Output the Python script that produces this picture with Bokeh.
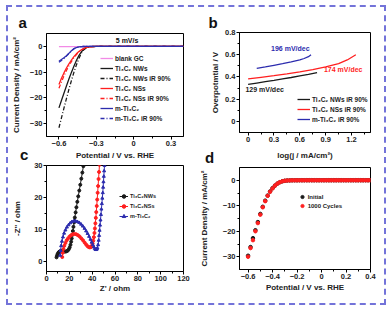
from bokeh.plotting import figure
from bokeh.models import Range1d, FixedTicker, Legend, LegendItem, Label, Div
from bokeh.layouts import row, column
from bokeh.embed import file_html
from bokeh.resources import INLINE

FONT = "Liberation Sans"
BLACK = "#1a1a1a"
RED = "#ff1f1f"
BLUE = "#2c2cae"
PINK = "#f28ae6"
DASH = "4 2 1 2"

# ---------------- panel a : polarisation curves ----------------
a_E = [-0.60, -0.58, -0.56, -0.54, -0.52, -0.50, -0.48, -0.46, -0.44, -0.42,
       -0.40, -0.38, -0.36, -0.34, -0.30, -0.20, 0.00, 0.20, 0.40]
a_blank = [-0.10, -0.10, -0.09, -0.09, -0.08, -0.08, -0.07, -0.07, -0.06, -0.06,
           -0.05, -0.05, -0.04, -0.04, -0.03, -0.02, -0.01, 0.00, 0.00]
a_nw = [-23.9, -21.0, -18.2, -15.4, -12.7, -10.1, -7.7, -5.5, -3.6, -2.1,
        -1.1, -0.5, -0.2, -0.08, -0.03, -0.01, 0.0, 0.0, 0.0]
a_nw_ir = [-31.6, -27.8, -24.0, -20.3, -16.7, -13.3, -10.1, -7.2, -4.7, -2.7,
           -1.3, -0.55, -0.2, -0.08, -0.03, -0.01, 0.0, 0.0, 0.0]
a_ns = [-14.8, -12.4, -10.3, -8.4, -6.8, -5.3, -4.0, -2.9, -2.0, -1.3,
        -0.8, -0.4, -0.2, -0.08, -0.03, -0.01, 0.0, 0.0, 0.0]
a_ns_ir = [-16.3, -13.8, -11.5, -9.4, -7.5, -5.9, -4.4, -3.2, -2.2, -1.4,
           -0.85, -0.45, -0.2, -0.08, -0.03, -0.01, 0.0, 0.0, 0.0]
a_m = [-5.8, -5.1, -4.4, -3.6, -2.7, -1.7, -0.9, -0.45, -0.22, -0.1,
       -0.05, -0.03, -0.02, -0.01, 0.0, 0.0, 0.0, 0.0, 0.0]
a_m_ir = [-6.2, -5.5, -4.7, -3.8, -2.8, -1.8, -0.95, -0.47, -0.23, -0.1,
          -0.05, -0.03, -0.02, -0.01, 0.0, 0.0, 0.0, 0.0, 0.0]
a_names = ["blank GC", "Ti\u2083C\u2082 NWs", "Ti\u2083C\u2082 NWs iR 90%",
           "Ti\u2083C\u2082 NSs", "Ti\u2083C\u2082 NSs iR 90%",
           "m-Ti\u2083C\u2082", "m-Ti\u2083C\u2082 iR 90%"]
a_xticks = [-0.6, -0.3, 0.0, 0.3]
a_xminor = [-0.45, -0.15, 0.15]
a_yticks = [0, -10, -20, -30]
a_yminor = [-5, -15, -25]

# ---------------- panel b : Tafel plots ----------------
b_x_nw = [0.0, 0.1, 0.2, 0.3, 0.4, 0.5, 0.6, 0.7, 0.8]
b_y_nw = [0.333, 0.345, 0.357, 0.369, 0.382, 0.395, 0.409, 0.423, 0.439]
b_x_ns = [0.0, 0.15, 0.3, 0.45, 0.6, 0.75, 0.9, 1.05, 1.15, 1.25]
b_y_ns = [0.382, 0.397, 0.412, 0.428, 0.446, 0.466, 0.490, 0.520, 0.553, 0.600]
b_x_m = [0.10, 0.2, 0.3, 0.4, 0.5, 0.6, 0.65, 0.70, 0.73]
b_y_m = [0.478, 0.491, 0.505, 0.519, 0.535, 0.553, 0.566, 0.582, 0.600]
b_names = ["Ti\u2083C\u2082 NWs iR 90%", "Ti\u2083C\u2082 NSs iR 90%", "m-Ti\u2083C\u2082 iR 90%"]
b_slopes = ["129 mV/dec", "174 mV/dec", "196 mV/dec"]
b_xticks = [0.0, 0.3, 0.6, 0.9, 1.2]
b_xminor = [0.15, 0.45, 0.75, 1.05, 1.35]
b_yticks = [0.0, 0.2, 0.4, 0.6, 0.8]
b_yminor = [0.1, 0.3, 0.5, 0.7]

# ---------------- panel c : Nyquist plots ----------------
c_x_nw = [8.8, 9.2, 9.7, 10.3, 11.0, 11.8, 12.7, 13.6, 14.6, 15.6, 16.6, 17.6, 18.6,
          19.5, 20.3, 21.0, 21.6, 22.1, 22.6, 23.1, 23.6, 24.2, 24.8, 25.5, 26.2,
          27.0, 27.8, 28.7, 29.6, 30.5, 31.4, 32.3]
c_y_nw = [1.4, 1.9, 2.4, 2.8, 3.1, 3.3, 3.4, 3.4, 3.3, 3.2, 3.2, 3.3, 3.5,
          3.9, 4.5, 5.3, 6.3, 7.3, 8.4, 9.6, 10.9, 12.3, 13.8, 15.4, 17.0,
          18.7, 20.4, 22.2, 24.0, 25.9, 27.8, 29.8]
c_x_ns = [13.8, 14.2, 14.8, 15.6, 16.6, 17.7, 18.9, 20.2, 21.6, 23.0, 24.5, 26.0,
          27.5, 29.0, 30.5, 32.0, 33.4, 34.7, 35.9, 37.0, 38.0, 38.9, 39.7, 40.4,
          41.0, 41.5, 42.0, 42.4, 42.8, 43.2, 43.6, 44.0, 44.4, 44.8, 45.2, 45.6,
          46.0, 46.4]
c_y_ns = [1.5, 2.8, 4.0, 5.0, 5.9, 6.7, 7.3, 7.9, 8.3, 8.6, 8.7, 8.6,
          8.3, 7.9, 7.3, 6.7, 6.0, 5.4, 4.9, 4.6, 4.5, 4.6, 5.0, 5.7,
          6.6, 7.7, 9.0, 10.4, 12.0, 13.7, 15.5, 17.4, 19.4, 21.5, 23.6, 25.8,
          28.0, 30.2]
c_x_m = [12.0, 12.3, 12.8, 13.5, 14.4, 15.4, 16.6, 17.9, 19.3, 20.8, 22.3, 23.9,
         25.5, 27.1, 28.7, 30.3, 31.8, 33.3, 34.7, 36.0, 37.3, 38.5, 39.6, 40.6,
         41.5, 42.3, 43.0, 43.6, 44.1, 44.6, 45.2, 45.7, 46.1, 46.5, 46.9, 47.3,
         47.7, 48.1, 48.5, 48.9, 49.3, 49.6, 49.9, 50.2, 50.5, 50.8]
c_y_m = [2.0, 3.5, 5.0, 6.4, 7.7, 8.9, 9.9, 10.8, 11.5, 12.1, 12.5, 12.7,
         12.7, 12.5, 12.2, 11.7, 11.1, 10.4, 9.6, 8.8, 7.9, 7.0, 6.1, 5.3,
         4.6, 4.1, 3.8, 3.8, 4.0, 4.3, 5.3, 6.7, 8.2, 9.8, 11.4, 13.0,
         14.7, 16.4, 18.1, 19.8, 21.5, 23.2, 24.9, 26.6, 28.3, 30.0]
c_names = ["Ti\u2083C\u2082NWs", "Ti\u2083C\u2082NSs", "m-Ti\u2083C\u2082"]
c_xticks = [0, 20, 40, 60, 80, 100, 120]
c_xminor = [10, 30, 50, 70, 90, 110]
c_yticks = [0, 10, 20, 30]
c_yminor = [5, 15, 25]

# ---------------- panel d : stability ----------------
d_E = [-0.60, -0.58, -0.56, -0.54, -0.52, -0.50, -0.48, -0.46, -0.44, -0.42,
       -0.40, -0.38, -0.36, -0.34, -0.32, -0.30, -0.28, -0.26, -0.24, -0.22,
       -0.20, -0.18, -0.16, -0.14, -0.12, -0.10, -0.08, -0.06, -0.04, -0.02,
       0.00, 0.02, 0.04, 0.06, 0.08, 0.10, 0.12, 0.14, 0.16, 0.18,
       0.20, 0.22, 0.24, 0.26, 0.28, 0.30, 0.32, 0.34, 0.36, 0.38, 0.40]
d_initial = [-29.6, -26.2, -22.7, -19.6, -16.4, -13.2, -10.4, -8.0, -6.0, -4.4,
             -3.1, -2.1, -1.3, -0.75, -0.4, -0.2, -0.1, -0.05, -0.03, -0.02,
             -0.02, -0.01, -0.01, -0.01, 0.0, 0.0, 0.0, 0.0, 0.0, 0.0,
             0.0, 0.0, 0.0, 0.0, 0.0, 0.0, 0.0, 0.0, 0.0, 0.0,
             0.0, 0.0, 0.0, 0.0, 0.0, 0.0, 0.0, 0.0, 0.0, 0.0, 0.0]
d_cycles = [-30.0, -26.6, -23.5, -20.0, -16.8, -13.5, -10.6, -8.2, -6.1, -4.5,
            -3.2, -2.1, -1.3, -0.75, -0.4, -0.2, -0.1, -0.05, -0.03, -0.02,
            -0.02, -0.01, -0.01, -0.01, 0.0, 0.0, 0.0, 0.0, 0.0, 0.0,
            0.0, 0.0, 0.0, 0.0, 0.0, 0.0, 0.0, 0.0, 0.0, 0.0,
            0.0, 0.0, 0.0, 0.0, 0.0, 0.0, 0.0, 0.0, 0.0, 0.0, 0.0]
d_names = ["Initial", "1000 Cycles"]
d_xticks = [-0.6, -0.4, -0.2, 0.0, 0.2, 0.4]
d_xminor = [-0.5, -0.3, -0.1, 0.1, 0.3]
d_yticks = [0, -10, -20, -30]
d_yminor = [-5, -15, -25]

panel_letters = ["a", "b", "c", "d"]


def make_fig(w, h, xr, yr, left, right, top, bottom):
    p = figure(width=w, height=h, x_range=Range1d(*xr), y_range=Range1d(*yr),
               output_backend="svg", toolbar_location=None,
               min_border_left=left, min_border_right=right,
               min_border_top=top, min_border_bottom=bottom)
    p.xgrid.grid_line_color = None
    p.ygrid.grid_line_color = None
    p.outline_line_color = "black"
    p.outline_line_alpha = 1.0
    p.outline_line_width = 1
    p.background_fill_color = "white"
    p.border_fill_color = "white"
    return p


def style_axes(p, xt, xm, yt, ym, xlabel, ylabel, xstand, ystand):
    p.xaxis.ticker = FixedTicker(ticks=xt, minor_ticks=xm)
    p.yaxis.ticker = FixedTicker(ticks=yt, minor_ticks=ym)
    p.xaxis.axis_label = xlabel
    p.yaxis.axis_label = ylabel
    for ax in (p.xaxis[0], p.yaxis[0]):
        ax.axis_line_color = "black"
        ax.major_tick_in = 0
        ax.major_tick_out = 3
        ax.minor_tick_in = 0
        ax.minor_tick_out = 2
        ax.major_tick_line_color = "black"
        ax.minor_tick_line_color = "black"
        ax.major_label_standoff = 1
        ax.major_label_text_font = FONT
        ax.major_label_text_font_size = "7.5px"
        ax.major_label_text_font_style = "bold"
        ax.major_label_text_color = "#222222"
        ax.axis_label_text_font = FONT
        ax.axis_label_text_font_size = "8px"
        ax.axis_label_text_font_style = "bold"
        ax.axis_label_text_color = "#222222"
    p.xaxis.axis_label_standoff = xstand
    p.yaxis.axis_label_standoff = ystand


def add_legend(p, items, loc, fsize, gw, pitch):
    leg = Legend(items=[LegendItem(label=n, renderers=r) for n, r in items],
                 location=loc, border_line_color=None, background_fill_alpha=0,
                 padding=0, margin=0, spacing=0, label_standoff=2,
                 glyph_width=gw, glyph_height=pitch, label_height=pitch,
                 label_text_font=FONT, label_text_font_size=fsize,
                 label_text_font_style="bold", label_text_color="#222222")
    p.add_layout(leg)


def label(p, x, y, text, size, color="#111111"):
    p.add_layout(Label(x=x, y=y, text=text, text_font=FONT, text_font_size=size,
                       text_font_style="bold", text_color=color,
                       text_align="center", text_baseline="middle"))


def letter_title(p, text, offset, standoff):
    p.title.text = text
    p.title.align = "left"
    p.title.offset = offset
    p.title.standoff = standoff
    p.title.text_font = FONT
    p.title.text_font_size = "15px"
    p.title.text_font_style = "bold"
    p.title.text_color = "#111111"


def letter_div(text, left, top):
    return Div(text=text, width=12, height=18,
               styles={"position": "absolute", "left": f"{left}px", "top": f"{top}px",
                       "font-family": FONT, "font-size": "15px", "font-weight": "bold",
                       "line-height": "18px", "color": "#111111", "z-index": "5"})


# ---------- figure a ----------
pa = make_fig(188, 155, (-0.7, 0.4), (-35, 5), 35, 13, 26, 25)
style_axes(pa, a_xticks, a_xminor, a_yticks, a_yminor,
           "Potential / V vs. RHE", "Current Density / mA/cm\u00b2", 2, 6)
letter_title(pa, panel_letters[0], -28, 5)
ra = []
ra.append(pa.line(a_E, a_blank, line_color=PINK, line_width=1.3))
ra.append(pa.line(a_E, a_nw, line_color=BLACK, line_width=1.3))
ra.append(pa.line(a_E, a_nw_ir, line_color=BLACK, line_width=1.3, line_dash=DASH))
ra.append(pa.line(a_E, a_ns, line_color=RED, line_width=1.3))
ra.append(pa.line(a_E, a_ns_ir, line_color=RED, line_width=1.3, line_dash=DASH))
ra.append(pa.line(a_E, a_m_ir, line_color=BLUE, line_width=1.3, line_dash=DASH))
ra.append(pa.line(a_E, a_m, line_color=BLUE, line_width=1.3))
order_a = [0, 1, 2, 3, 4, 6, 5]
add_legend(pa, [(a_names[i], [ra[order_a[i]]]) for i in range(7)], (54, 13), "6.5px", 13, 10)
label(pa, -0.053, 2.3, "5 mV/s", "7px")

# ---------- figure b ----------
pb = make_fig(188, 155, (-0.1, 1.42), (-0.1, 0.8), 38, 11, 25, 29)
style_axes(pb, b_xticks, b_xminor, b_yticks, b_yminor,
           "log(j / mA/cm\u00b2)", "Overpotmtial / V", 6, 2)
letter_title(pb, panel_letters[1], -31, 4)
rb = [pb.line(b_x_nw, b_y_nw, line_color=BLACK, line_width=1.3),
      pb.line(b_x_ns, b_y_ns, line_color=RED, line_width=1.3),
      pb.line(b_x_m, b_y_m, line_color=BLUE, line_width=1.3)]
add_legend(pb, [(b_names[i], [rb[i]]) for i in range(3)], (58, 8), "6.5px", 13, 10)
label(pb, 0.192, 0.283, b_slopes[0], "7px", BLACK)
label(pb, 1.103, 0.468, b_slopes[1], "7px", RED)
label(pb, 0.49, 0.66, b_slopes[2], "7px", BLUE)

# ---------- figure c ----------
pc = make_fig(188, 141, (0, 120), (-3, 30), 35, 12, 3, 32)
style_axes(pc, c_xticks, c_xminor, c_yticks, c_yminor,
           "Z' / ohm", "-Z\" / ohm", 0, 9)
rc = []
for xs, ys, col, mk in ((c_x_nw, c_y_nw, BLACK, "circle"),
                        (c_x_ns, c_y_ns, RED, "circle"),
                        (c_x_m, c_y_m, BLUE, "triangle")):
    l = pc.line(xs, ys, line_color=col, line_width=1)
    s = pc.scatter(xs, ys, marker=mk, size=3, fill_color=col, line_color=col)
    rc.append([l, s])
add_legend(pc, [(c_names[i], rc[i]) for i in range(3)], (73, 50), "5.5px", 9, 10)

# ---------- figure d ----------
pd = make_fig(188, 141, (-0.67, 0.4), (-35, 5), 35, 14, 5, 34)
style_axes(pd, d_xticks, d_xminor, d_yticks, d_yminor,
           "Potential / V vs. RHE", "Current Density / mA/cm\u00b2", 1, 11)
s1 = pd.scatter(d_E, d_initial, marker="circle", size=3.5, fill_color=BLACK, line_color=BLACK)
s2 = pd.scatter(d_E, d_cycles, marker="circle", size=3.5, fill_color=RED, line_color=RED)
add_legend(pd, [(d_names[0], [s1]), (d_names[1], [s2])], (58.7, 58.6), "6px", 8, 9)

div_c = letter_div(panel_letters[2], 7, 134)
div_d = letter_div(panel_letters[3], 192, 137)

lay = row(column(pa, pc, spacing=0), column(pb, pd, spacing=0), div_c, div_d, spacing=0,
          styles={"border": "2px dashed #7373d9", "background-color": "white"},
          margin=(5, 0, 0, 6))

open("out.html", "w").write(file_html(lay, INLINE))
